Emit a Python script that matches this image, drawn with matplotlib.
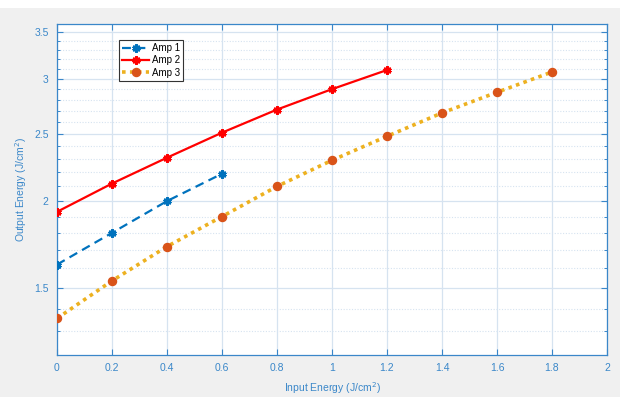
import matplotlib
matplotlib.use("Agg")
import matplotlib.pyplot as plt
from matplotlib.ticker import FixedLocator, NullFormatter
from matplotlib.patches import Rectangle

plt.rcParams['font.family'] = ['Liberation Sans', 'DejaVu Sans']

amp1_x = [0, 0.2, 0.4, 0.6]
amp1_y = [1.62, 1.80, 2.00, 2.19]
amp2_x = [0, 0.2, 0.4, 0.6, 0.8, 1.0, 1.2]
amp2_y = [1.93, 2.12, 2.31, 2.51, 2.71, 2.90, 3.09]
amp3_x = [0, 0.2, 0.4, 0.6, 0.8, 1.0, 1.2, 1.4, 1.6, 1.8]
amp3_y = [1.355, 1.535, 1.72, 1.90, 2.10, 2.29, 2.48, 2.68, 2.87, 3.07]

xticks = [0, 0.2, 0.4, 0.6, 0.8, 1, 1.2, 1.4, 1.6, 1.8, 2]
xtick_labels = ["0", "0.2", "0.4", "0.6", "0.8", "1", "1.2", "1.4", "1.6", "1.8", "2"]
yticks = [1.5, 2, 2.5, 3, 3.5]
ytick_labels = ["1.5", "2", "2.5", "3", "3.5"]
yminor = [1.3, 1.4, 1.6, 1.7, 1.8, 1.9, 2.1, 2.2, 2.3, 2.4, 2.6, 2.7, 2.8, 2.9, 3.1, 3.2, 3.3, 3.4, 3.6]

axcol = '#3a87c9'
gridcol = '#d6e3f0'

fig = plt.figure(figsize=(6.2, 3.97), dpi=100, facecolor='#f0f0f0')
fig.patches.append(Rectangle((0, 1 - 8/397), 1, 8/397, transform=fig.transFigure,
                             facecolor='white', edgecolor='none', zorder=0))
ax = fig.add_axes([57/620, 1 - 355/397, 550/620, 331/397])
ax.set_facecolor('white')
ax.set_yscale('log')
ax.set_xlim(0, 2)
ax.set_ylim(1.2, 3.6)

ast = (6, 2, 0)
ax.plot(amp1_x, amp1_y, linestyle=(0, (4, 2.5)), color='#0072bd', lw=1.6,
        marker=ast, ms=5.8, mew=2.0, mec='#0072bd', label='Amp 1', zorder=3)
ax.plot(amp2_x, amp2_y, linestyle='-', color='#ff0000', lw=1.6,
        marker=ast, ms=5.8, mew=2.0, mec='#ff0000', label='Amp 2', zorder=3)
ax.plot(amp3_x, amp3_y, linestyle=(0, (1, 1.2)), color='#edb120', lw=2.6,
        marker='o', ms=5.8, mfc='#d95319', mec='#d95319', label='Amp 3', zorder=3)

ax.xaxis.set_major_locator(FixedLocator(xticks))
ax.set_xticklabels(xtick_labels)
ax.yaxis.set_major_locator(FixedLocator(yticks))
ax.yaxis.set_minor_locator(FixedLocator(yminor))
ax.yaxis.set_minor_formatter(NullFormatter())
ax.set_yticklabels(ytick_labels)

ax.grid(True, which='major', color=gridcol, lw=0.9, ls='-')
ax.grid(True, which='minor', axis='y', color=gridcol, lw=0.8, ls=(0, (1, 1.5)))
ax.set_axisbelow(True)

for s in ax.spines.values():
    s.set_color(axcol)
    s.set_linewidth(0.9)
ax.tick_params(which='both', direction='in', colors=axcol, top=True, right=True,
               labelsize=7.5, pad=6)
ax.tick_params(which='major', length=4, width=0.8)
ax.tick_params(which='minor', length=2.5, width=0.7)

ax.set_xlabel('Input Energy (J/cm$^2$)', color=axcol, fontsize=7.5, labelpad=5)
ax.set_ylabel('Output Energy (J/cm$^2$)', color=axcol, fontsize=7.5, labelpad=4)

leg = ax.legend(loc='upper left', bbox_to_anchor=(62/550, 1 - 16/331), fontsize=7,
                frameon=True, fancybox=False, edgecolor='#333333', framealpha=1,
                handlelength=2.8, handletextpad=0.3, borderpad=0.3, labelspacing=0.25,
                borderaxespad=0)
leg.get_frame().set_linewidth(0.8)

fig.savefig('out.png', dpi=100, facecolor=fig.get_facecolor())
